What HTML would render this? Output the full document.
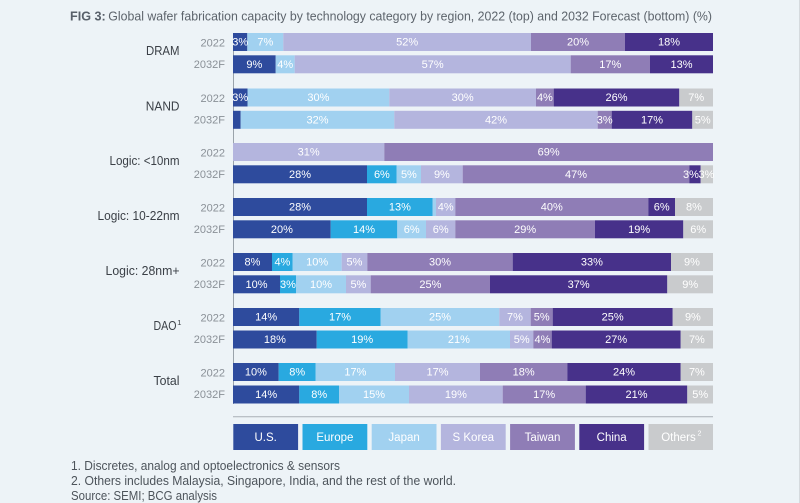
<!DOCTYPE html>
<html>
<head>
<meta charset="utf-8">
<style>
  html,body{margin:0;padding:0;background:#edf3f7;}
  svg{display:block;}
  text{font-family:"Liberation Sans",Arial,sans-serif;}
  .u{fill:#2e4b9d}.e{fill:#29a9e0}.j{fill:#a1d1f0}.s{fill:#b4b5de}.t{fill:#8f7db6}.c{fill:#47318a}.o{fill:#c9cbcd}
  .bl{font-size:11px;fill:#ffffff;text-anchor:middle;}
  .yr{font-size:11px;fill:#8a9097;text-anchor:end;}
  .gl{font-size:13px;fill:#3b4047;text-anchor:end;}
  .lg{font-size:11.5px;fill:#ffffff;text-anchor:middle;}
  .fn{font-size:13px;fill:#4d545b;}
</style>
</head>
<body>
<svg width="800" height="503" viewBox="0 0 800 503" xmlns="http://www.w3.org/2000/svg">
  <rect x="0" y="0" width="800" height="503" fill="#edf3f7"/>
  <line x1="799.5" y1="0" x2="799.5" y2="503" stroke="#d5dade" stroke-width="1"/>

  <!-- Title -->
  <text x="70" y="20.7" font-size="13" font-weight="bold" fill="#58606a" textLength="35.7" lengthAdjust="spacingAndGlyphs">FIG 3:</text>
  <text x="108.3" y="20.7" font-size="13" fill="#5d646c" textLength="603.7" lengthAdjust="spacingAndGlyphs">Global wafer fabrication capacity by technology category by region, 2022 (top) and 2032 Forecast (bottom) (%)</text>

  <!-- axis line -->
  <line x1="233.5" y1="33" x2="233.5" y2="404" stroke="#9aa3ab" stroke-width="1"/>

  <!-- Group labels -->
  <text class="gl" x="179.5" y="55" textLength="33.5" lengthAdjust="spacingAndGlyphs">DRAM</text>
  <text class="gl" x="179.5" y="110.5" textLength="33.7" lengthAdjust="spacingAndGlyphs">NAND</text>
  <text class="gl" x="179.5" y="165" textLength="70" lengthAdjust="spacingAndGlyphs">Logic: &lt;10nm</text>
  <text class="gl" x="179.5" y="220" textLength="82" lengthAdjust="spacingAndGlyphs">Logic: 10-22nm</text>
  <text class="gl" x="179.5" y="275" textLength="74" lengthAdjust="spacingAndGlyphs">Logic: 28nm+</text>
  <text class="gl" x="176.5" y="330" textLength="23" lengthAdjust="spacingAndGlyphs">DAO</text>
  <text x="177.3" y="325" font-size="7.5" fill="#3b4047">1</text>
  <text class="gl" x="179.5" y="385" textLength="26" lengthAdjust="spacingAndGlyphs">Total</text>

  <!-- Year labels -->
  <g class="yr">
    <text x="225" y="46.5">2022</text><text x="225" y="68">2032F</text>
    <text x="225" y="102">2022</text><text x="225" y="123.5">2032F</text>
    <text x="225" y="156.5">2022</text><text x="225" y="178">2032F</text>
    <text x="225" y="211.5">2022</text><text x="225" y="233">2032F</text>
    <text x="225" y="266.5">2022</text><text x="225" y="288">2032F</text>
    <text x="225" y="321.5">2022</text><text x="225" y="343">2032F</text>
    <text x="225" y="376.5">2022</text><text x="225" y="398">2032F</text>
  </g>

  <!-- DRAM 2022 -->
  <g>
    <rect class="u" x="233" y="33" width="14.3" height="18"/>
    <rect class="j" x="247.3" y="33" width="36" height="18"/>
    <rect class="s" x="283.3" y="33" width="247.7" height="18"/>
    <rect class="t" x="531" y="33" width="94" height="18"/>
    <rect class="c" x="625" y="33" width="88" height="18"/>
  </g>
  <g class="bl">
    <text x="240.2" y="45.7">3%</text><text x="265.3" y="45.7">7%</text><text x="407.2" y="45.7">52%</text><text x="578" y="45.7">20%</text><text x="669" y="45.7">18%</text>
  </g>
  <!-- DRAM 2032F -->
  <g>
    <rect class="u" x="233" y="55.3" width="42.7" height="18"/>
    <rect class="j" x="275.7" y="55.3" width="19" height="18"/>
    <rect class="s" x="294.7" y="55.3" width="276" height="18"/>
    <rect class="t" x="570.7" y="55.3" width="79.3" height="18"/>
    <rect class="c" x="650" y="55.3" width="63" height="18"/>
  </g>
  <g class="bl">
    <text x="254.3" y="68">9%</text><text x="285.2" y="68">4%</text><text x="432.7" y="68">57%</text><text x="610.3" y="68">17%</text><text x="681.5" y="68">13%</text>
  </g>

  <!-- NAND 2022 -->
  <g>
    <rect class="u" x="233" y="88.5" width="14.5" height="18"/>
    <rect class="j" x="247.5" y="88.5" width="141.8" height="18"/>
    <rect class="s" x="389.3" y="88.5" width="146.7" height="18"/>
    <rect class="t" x="536" y="88.5" width="17.7" height="18"/>
    <rect class="c" x="553.7" y="88.5" width="125.6" height="18"/>
    <rect class="o" x="679.3" y="88.5" width="33.7" height="18"/>
  </g>
  <g class="bl">
    <text x="240.2" y="101.2">3%</text><text x="318.4" y="101.2">30%</text><text x="462.7" y="101.2">30%</text><text x="544.9" y="101.2">4%</text><text x="616.5" y="101.2">26%</text><text x="696.2" y="101.2">7%</text>
  </g>
  <!-- NAND 2032F -->
  <g>
    <rect class="u" x="233" y="110.8" width="7.7" height="18"/>
    <rect class="j" x="240.7" y="110.8" width="153.6" height="18"/>
    <rect class="s" x="394.3" y="110.8" width="203.4" height="18"/>
    <rect class="t" x="597.7" y="110.8" width="14" height="18"/>
    <rect class="c" x="611.7" y="110.8" width="80.6" height="18"/>
    <rect class="o" x="692.3" y="110.8" width="20.7" height="18"/>
  </g>
  <g class="bl">
    <text x="317.5" y="123.5">32%</text><text x="496" y="123.5">42%</text><text x="604.7" y="123.5">3%</text><text x="652" y="123.5">17%</text><text x="702.7" y="123.5">5%</text>
  </g>

  <!-- Logic <10nm 2022 -->
  <g>
    <rect class="s" x="233" y="143" width="151.3" height="18"/>
    <rect class="t" x="384.3" y="143" width="328.7" height="18"/>
  </g>
  <g class="bl">
    <text x="308.7" y="155.7">31%</text><text x="548.7" y="155.7">69%</text>
  </g>
  <!-- Logic <10nm 2032F -->
  <g>
    <rect class="u" x="233" y="165.3" width="134" height="18"/>
    <rect class="e" x="367" y="165.3" width="29.7" height="18"/>
    <rect class="j" x="396.7" y="165.3" width="24.3" height="18"/>
    <rect class="s" x="421" y="165.3" width="41.7" height="18"/>
    <rect class="t" x="462.7" y="165.3" width="226.6" height="18"/>
    <rect class="c" x="689.3" y="165.3" width="11.4" height="18"/>
    <rect class="o" x="700.7" y="165.3" width="12.3" height="18"/>
  </g>
  <g class="bl">
    <text x="300" y="178">28%</text><text x="381.9" y="178">6%</text><text x="408.9" y="178">5%</text><text x="441.9" y="178">9%</text><text x="576" y="178">47%</text><text x="691" y="178">3%</text><text x="706.5" y="178">3%</text>
  </g>

  <!-- Logic 10-22 2022 -->
  <g>
    <rect class="u" x="233" y="198" width="134" height="18"/>
    <rect class="e" x="367" y="198" width="65.7" height="18"/>
    <rect class="j" x="432.7" y="198" width="3.3" height="18"/>
    <rect class="s" x="436" y="198" width="19.3" height="18"/>
    <rect class="t" x="455.3" y="198" width="193" height="18"/>
    <rect class="c" x="648.3" y="198" width="26.7" height="18"/>
    <rect class="o" x="675" y="198" width="38" height="18"/>
  </g>
  <g class="bl">
    <text x="300" y="210.7">28%</text><text x="399.9" y="210.7">13%</text><text x="445.7" y="210.7">4%</text><text x="551.8" y="210.7">40%</text><text x="661.7" y="210.7">6%</text><text x="694" y="210.7">8%</text>
  </g>
  <!-- Logic 10-22 2032F -->
  <g>
    <rect class="u" x="233" y="220.3" width="97.7" height="18"/>
    <rect class="e" x="330.7" y="220.3" width="66.6" height="18"/>
    <rect class="j" x="397.3" y="220.3" width="28.7" height="18"/>
    <rect class="s" x="426" y="220.3" width="29.3" height="18"/>
    <rect class="t" x="455.3" y="220.3" width="139.7" height="18"/>
    <rect class="c" x="595" y="220.3" width="88.3" height="18"/>
    <rect class="o" x="683.3" y="220.3" width="29.7" height="18"/>
  </g>
  <g class="bl">
    <text x="281.9" y="233">20%</text><text x="364" y="233">14%</text><text x="411.7" y="233">6%</text><text x="440.7" y="233">6%</text><text x="525.2" y="233">29%</text><text x="639.2" y="233">19%</text><text x="698.2" y="233">6%</text>
  </g>

  <!-- Logic 28nm+ 2022 -->
  <g>
    <rect class="u" x="233" y="253" width="39" height="18"/>
    <rect class="e" x="272" y="253" width="20.7" height="18"/>
    <rect class="j" x="292.7" y="253" width="49" height="18"/>
    <rect class="s" x="341.7" y="253" width="25.6" height="18"/>
    <rect class="t" x="367.3" y="253" width="145.4" height="18"/>
    <rect class="c" x="512.7" y="253" width="158.3" height="18"/>
    <rect class="o" x="671" y="253" width="42" height="18"/>
  </g>
  <g class="bl">
    <text x="252.5" y="265.7">8%</text><text x="282.4" y="265.7">4%</text><text x="317.2" y="265.7">10%</text><text x="354.5" y="265.7">5%</text><text x="440" y="265.7">30%</text><text x="591.9" y="265.7">33%</text><text x="692" y="265.7">9%</text>
  </g>
  <!-- Logic 28nm+ 2032F -->
  <g>
    <rect class="u" x="233" y="275.3" width="47" height="18"/>
    <rect class="e" x="280" y="275.3" width="16" height="18"/>
    <rect class="j" x="296" y="275.3" width="50" height="18"/>
    <rect class="s" x="346" y="275.3" width="24.7" height="18"/>
    <rect class="t" x="370.7" y="275.3" width="119.3" height="18"/>
    <rect class="c" x="490" y="275.3" width="177.3" height="18"/>
    <rect class="o" x="667.3" y="275.3" width="45.7" height="18"/>
  </g>
  <g class="bl">
    <text x="256.5" y="288">10%</text><text x="288" y="288">3%</text><text x="321" y="288">10%</text><text x="358.4" y="288">5%</text><text x="430.4" y="288">25%</text><text x="578.7" y="288">37%</text><text x="690.2" y="288">9%</text>
  </g>

  <!-- DAO 2022 -->
  <g>
    <rect class="u" x="233" y="308" width="66.3" height="18"/>
    <rect class="e" x="299.3" y="308" width="81.4" height="18"/>
    <rect class="j" x="380.7" y="308" width="118.6" height="18"/>
    <rect class="s" x="499.3" y="308" width="31.4" height="18"/>
    <rect class="t" x="530.7" y="308" width="22" height="18"/>
    <rect class="c" x="552.7" y="308" width="120" height="18"/>
    <rect class="o" x="672.7" y="308" width="40.3" height="18"/>
  </g>
  <g class="bl">
    <text x="266.2" y="320.7">14%</text><text x="340" y="320.7">17%</text><text x="440" y="320.7">25%</text><text x="515" y="320.7">7%</text><text x="541.7" y="320.7">5%</text><text x="612.7" y="320.7">25%</text><text x="692.9" y="320.7">9%</text>
  </g>
  <!-- DAO 2032F -->
  <g>
    <rect class="u" x="233" y="330.5" width="83.7" height="18"/>
    <rect class="e" x="316.7" y="330.5" width="91" height="18"/>
    <rect class="j" x="407.7" y="330.5" width="102.3" height="18"/>
    <rect class="s" x="510" y="330.5" width="23.3" height="18"/>
    <rect class="t" x="533.3" y="330.5" width="18.4" height="18"/>
    <rect class="c" x="551.7" y="330.5" width="129" height="18"/>
    <rect class="o" x="680.7" y="330.5" width="32.3" height="18"/>
  </g>
  <g class="bl">
    <text x="274.9" y="343.2">18%</text><text x="362.2" y="343.2">19%</text><text x="458.9" y="343.2">21%</text><text x="521.7" y="343.2">5%</text><text x="542.5" y="343.2">4%</text><text x="616.2" y="343.2">27%</text><text x="696.9" y="343.2">7%</text>
  </g>

  <!-- Total 2022 -->
  <g>
    <rect class="u" x="233" y="363" width="45.7" height="18"/>
    <rect class="e" x="278.7" y="363" width="37" height="18"/>
    <rect class="j" x="315.7" y="363" width="79.3" height="18"/>
    <rect class="s" x="395" y="363" width="85" height="18"/>
    <rect class="t" x="480" y="363" width="87.3" height="18"/>
    <rect class="c" x="567.3" y="363" width="113.4" height="18"/>
    <rect class="o" x="680.7" y="363" width="32.3" height="18"/>
  </g>
  <g class="bl">
    <text x="255.9" y="375.7">10%</text><text x="297.2" y="375.7">8%</text><text x="355.4" y="375.7">17%</text><text x="437.5" y="375.7">17%</text><text x="523.7" y="375.7">18%</text><text x="624" y="375.7">24%</text><text x="696.9" y="375.7">7%</text>
  </g>
  <!-- Total 2032F -->
  <g>
    <rect class="u" x="233" y="385.5" width="66.3" height="18"/>
    <rect class="e" x="299.3" y="385.5" width="39.7" height="18"/>
    <rect class="j" x="339" y="385.5" width="70" height="18"/>
    <rect class="s" x="409" y="385.5" width="93.7" height="18"/>
    <rect class="t" x="502.7" y="385.5" width="83" height="18"/>
    <rect class="c" x="585.7" y="385.5" width="101.6" height="18"/>
    <rect class="o" x="687.3" y="385.5" width="25.7" height="18"/>
  </g>
  <g class="bl">
    <text x="266.2" y="398.2">14%</text><text x="319.2" y="398.2">8%</text><text x="374" y="398.2">15%</text><text x="455.9" y="398.2">19%</text><text x="544.2" y="398.2">17%</text><text x="636.5" y="398.2">21%</text><text x="700.2" y="398.2">5%</text>
  </g>

  <!-- separator line -->
  <line x1="233" y1="416.7" x2="713" y2="416.7" stroke="#a9b0b6" stroke-width="1"/>

  <!-- Legend -->
  <rect class="u" x="233.3" y="424" width="64.8" height="26"/>
  <rect class="e" x="302.5" y="424" width="64.8" height="26"/>
  <rect class="j" x="371.7" y="424" width="64.8" height="26"/>
  <rect class="s" x="440.9" y="424" width="64.8" height="26"/>
  <rect class="t" x="510.1" y="424" width="64.8" height="26"/>
  <rect class="c" x="579.3" y="424" width="64.8" height="26"/>
  <rect class="o" x="648.5" y="424" width="64.5" height="26"/>
  <g class="lg">
    <text x="265.7" y="441">U.S.</text>
    <text x="334.9" y="441">Europe</text>
    <text x="404.1" y="441">Japan</text>
    <text x="473.3" y="441">S Korea</text>
    <text x="542.5" y="441">Taiwan</text>
    <text x="611.7" y="441">China</text>
    <text x="678.5" y="441">Others</text>
  </g>
  <text x="697.5" y="435.5" font-size="7" fill="#ffffff">2</text>

  <!-- Footnotes -->
  <text class="fn" x="71" y="470" textLength="269" lengthAdjust="spacingAndGlyphs">1. Discretes, analog and optoelectronics &amp; sensors</text>
  <text class="fn" x="71" y="485" textLength="385" lengthAdjust="spacingAndGlyphs">2. Others includes Malaysia, Singapore, India, and the rest of the world.</text>
  <text class="fn" x="71" y="500" textLength="146" lengthAdjust="spacingAndGlyphs">Source: SEMI; BCG analysis</text>
</svg>
</body>
</html>
